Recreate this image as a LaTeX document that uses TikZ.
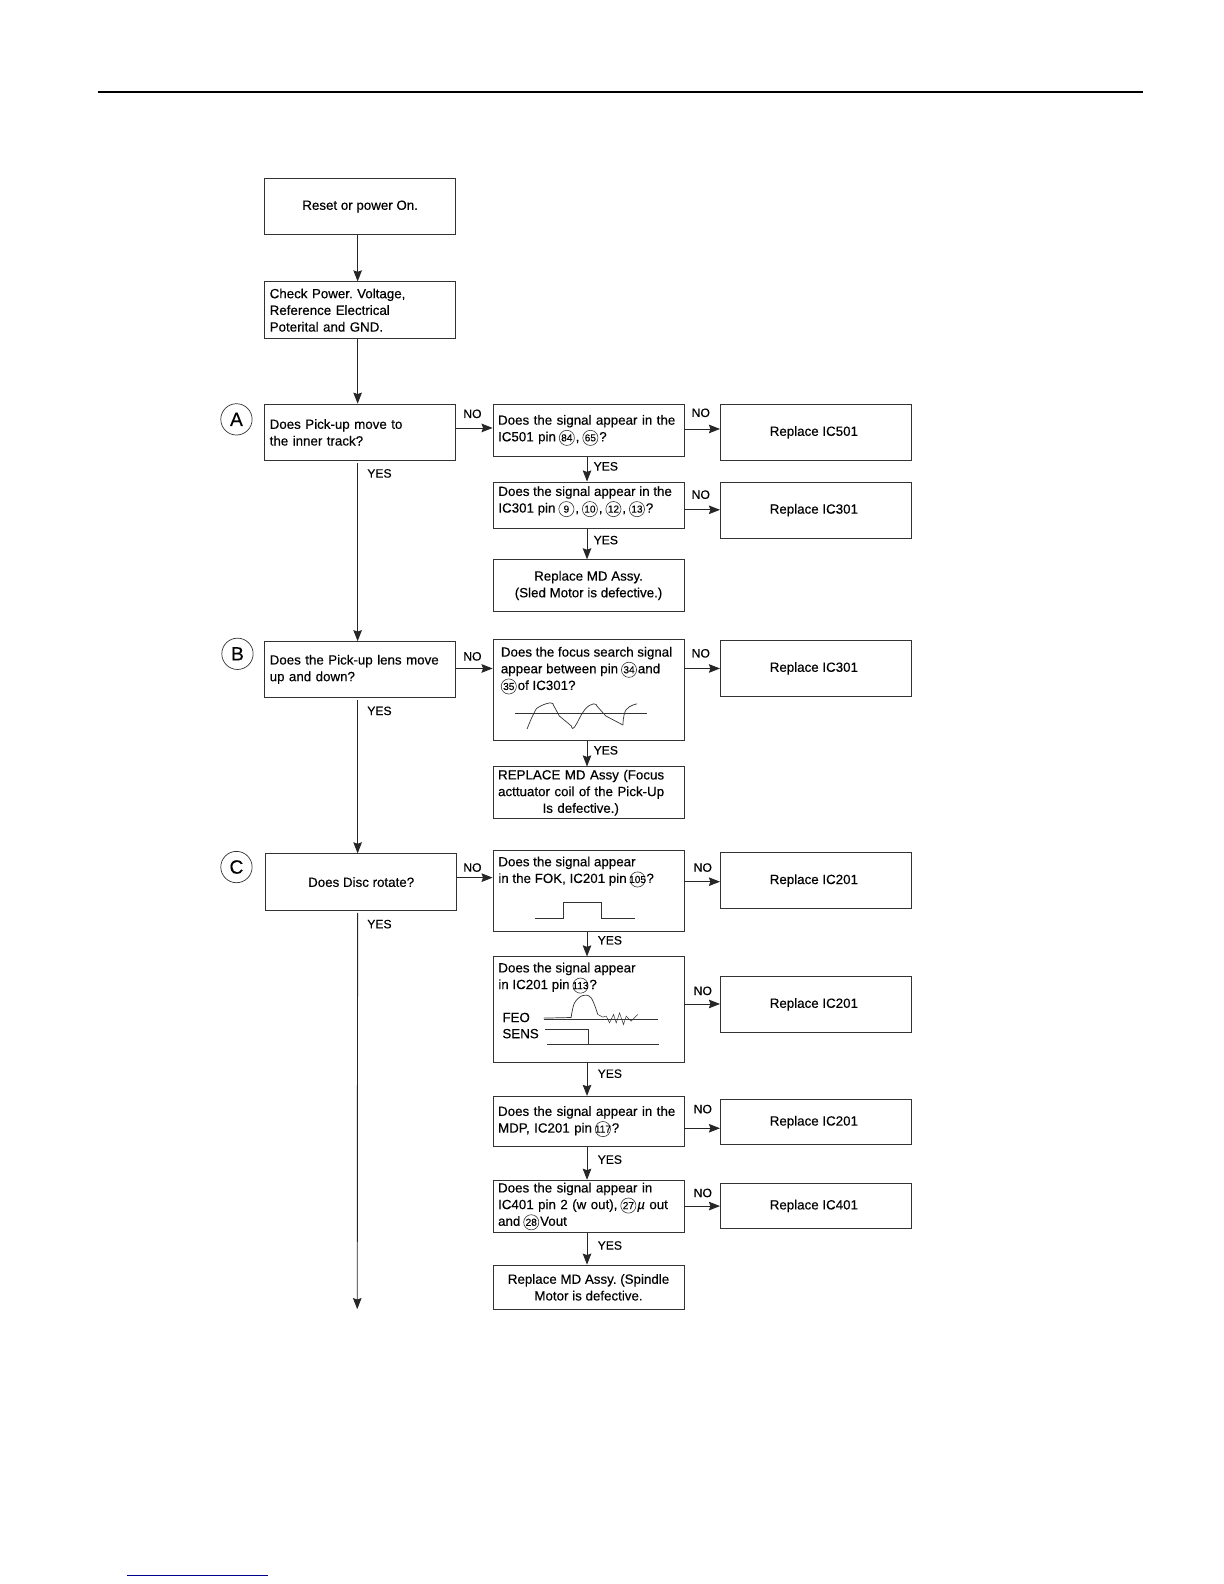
\documentclass[tikz,border=0pt]{standalone}
\usepackage{fontspec}
\setmainfont{Liberation Sans}[RawFeature={embolden=0.35}]
\usetikzlibrary{arrows.meta}
\frenchspacing

\tikzset{
  flowbox/.style  = {draw=black!80, line width=0.8pt, minimum width=189pt, anchor=north west,
                     inner sep=0pt, font=\fontsize{13.2}{16.5}\selectfont},
  leftbox/.style  = {flowbox, align=left, text width=179pt, inner xsep=5pt},
  midbox/.style   = {flowbox, align=center},
  repbox/.style   = {flowbox, execute at end node=\hspace*{4pt}},
  flowtext/.style = {anchor=north west, inner sep=0pt, align=left, font=\fontsize{13.2}{16.5}\selectfont},
  flowlabel/.style= {inner sep=0pt, font=\fontsize{12}{14}\selectfont},
  stagemark/.style= {circle, draw=black!80, line width=0.7pt, minimum size=31pt, inner sep=0pt,
                     font=\fontsize{19}{19}\selectfont},
  flowline/.style = {draw=black!85, line width=0.9pt, -{Stealth[length=11pt,width=8.5pt,inset=1.5pt]}},
  wave/.style     = {black!80, line width=0.7pt}
}
% circled pin number inside a line of text
\newcommand{\pinref}[1]{\hspace{3pt}\tikz[baseline=(pin.base)] \node[circle, draw=black!80, line width=0.6pt,
  minimum size=15pt, inner sep=0pt, font=\fontsize{10}{10}\selectfont] (pin) {\makebox[0pt]{#1}};\hspace{1pt}}

\begin{document}
\begin{tikzpicture}[x=1pt, y=-1pt]
\useasboundingbox (0.5,0.5) rectangle (1211.5,1568);

% top rule and the stub of a link at the foot of the page
\draw[line width=2.6pt, black] (97,91.5) -- (1132,91.5);
\draw[line width=1pt, blue!55!black] (126,1559.5) -- (266,1559.5);

% left column
\node[midbox, minimum height=55pt]  (start)  at (262,177) {Reset or power On.};
\node[leftbox, minimum height=56pt] (power)  at (262,279) {Check Power. Voltage,\\Reference Electrical\\Poterital and GND.};
\node[leftbox, minimum height=56pt] (moveq)  at (262,400) {Does Pick-up move to\\the inner track?};
\node[leftbox, minimum height=55pt] (lensq)  at (262,635) {Does the Pick-up lens move\\up and down?};
\node[midbox, minimum height=56pt]  (discq)  at (263,845) {Does Disc rotate?};
\coordinate (pageend) at (354,1296);

% stage marks
\node[stagemark] (markA) at (234.5,415.5) {A};
\node[stagemark] (markB) at (235.5,647.5) {B};
\node[stagemark] (markC) at (234.5,858.5) {C};

% middle column
\node[leftbox, minimum height=52pt] (sigA)   at (488,400) {Does the signal appear in the\\IC501 pin\pinref{84},\pinref{65}?};
\node[flowbox, minimum height=46pt] (sigB)   at (488,477) {};
\node[flowtext] (sigBtext) at (493.5,481.5) {Does the signal appear in the\\IC301 pin\pinref{9},\pinref{10},\pinref{12},\pinref{13}?};
\node[midbox, minimum height=51pt]  (sledmd) at (488,554) {Replace MD Assy.\\(Sled Motor is defective.)};
\node[flowbox, minimum height=100pt] (sigC)  at (488,633) {};
\node[flowtext] (sigCtext) at (496,640.5) {Does the focus search signal\\appear between pin\pinref{34}and\\\hspace*{-3pt}\pinref{35}of IC301?};
\node[leftbox, minimum height=51pt] (focusmd) at (488,759) {REPLACE MD Assy (Focus\\acttuator coil of the Pick-Up\\\hspace*{44pt}Is defective.)};
\node[flowbox, minimum height=80pt] (sigD)   at (488,842) {};
\node[flowtext] (sigDtext) at (493.5,848) {Does the signal appear\\in the FOK, IC201 pin\pinref{105}?};
\node[flowbox, minimum height=104pt] (sigE)  at (488,947) {};
\node[flowtext] (sigEtext) at (493.5,953) {Does the signal appear\\in IC201 pin\pinref{113}?};
\node[flowtext] (feo)  at (497.5,1002.5) {FEO};
\node[flowtext] (sens) at (497.5,1018.5) {SENS};
\node[leftbox, minimum height=50pt] (sigF)   at (488,1085) {Does the signal appear in the\\MDP, IC201 pin\pinref{117}?};
\node[leftbox, minimum height=52pt] (sigG)   at (488,1168) {Does the signal appear in\\IC401 pin 2 (w out),\pinref{27}{\itshape µ} out\\and\pinref{28}Vout};
\node[midbox, minimum height=44pt]  (spinmd) at (488,1252) {Replace MD Assy. (Spindle\\Motor is defective.};

% right column
\node[repbox, minimum height=56pt] (repA) at (713,400)  {Replace IC501};
\node[repbox, minimum height=56pt] (repB) at (713,477)  {Replace IC301};
\node[repbox, minimum height=55pt] (repC) at (713,634)  {Replace IC301};
\node[repbox, minimum height=55pt] (repD) at (713,844)  {Replace IC201};
\node[repbox, minimum height=56pt] (repE) at (713,966)  {Replace IC201};
\node[repbox, minimum height=45pt] (repF) at (713,1088) {Replace IC201};
\node[repbox, minimum height=45pt] (repG) at (713,1171) {Replace IC401};

% waveforms
\draw[wave] (510,706.5) -- (641,706.5);
\draw[wave] plot[smooth, tension=0.8] coordinates {(522,722) (529,706) (534,700) (545,696) (548,698)};
\draw[wave] (548,698) -- (554,709) -- (566,719);
\draw[wave] plot[smooth, tension=0.8] coordinates {(566,719) (569,720) (579,703) (588,697) (591,699)};
\draw[wave] (591,699) -- (600,709) -- (617,718);
\draw[wave] plot[smooth, tension=0.8] coordinates {(617,718) (620,703) (631,697)};
\draw[wave] (530,909) -- (557.5,909) -- (557.5,893) -- (596,893) -- (596,909) -- (628.5,909);
\draw[wave] (538.5,1009.5) -- (652,1009.5);
\draw[wave] (538.5,1008) -- (565.7,1007.4);
\draw[wave] plot[smooth, tension=0.6] coordinates {(565.7,1007.4) (569,993) (577.3,985.6) (585.5,988) (592.1,1004.4)};
\draw[wave, line width=0.5pt] (592.1,1004.4) -- (597,1007) -- (600.4,1006) -- (603.7,1012.7) -- (607.6,1004.4)
  -- (610.3,1012.7) -- (613.6,1002.8) -- (617.5,1014.3) -- (620.2,1006) -- (625,1011) -- (631.7,1004.4);
\draw[wave] (540.3,1019.6) -- (583.2,1019.6) -- (583.2,1034.1) -- (541.6,1034.1);
\draw[wave] (583.2,1034.1) -- (652.5,1034.1);

% main line, a small gap stays under the question boxes
\draw[flowline] ([xshift=-2.5pt]start.south) -- ([xshift=-2.5pt]power.north);
\draw[flowline] ([xshift=-2.5pt]power.south) -- ([xshift=-2.5pt]moveq.north);
\draw[flowline] ([xshift=-2.5pt, yshift=-2pt]moveq.south) -- ([xshift=-2.5pt]lensq.north);
\draw[flowline] ([xshift=-2.5pt, yshift=-2pt]lensq.south) -- ([xshift=-3.5pt]discq.north);
\draw[flowline] ([xshift=-3.5pt, yshift=-2pt]discq.south) -- (pageend);

% YES steps of the middle column
\foreach \from/\to in {sigA/sigB, sigB/sledmd, sigC/focusmd, sigD/sigE, sigE/sigF, sigF/sigG, sigG/spinmd}
  \draw[flowline] ([xshift=-1.5pt]\from.south) -- ([xshift=-1.5pt]\to.north);

% NO steps, each at its own height
\foreach \from/\to/\ypos in {moveq/sigA/424, sigA/repA/425, sigB/repB/505, lensq/sigC/662, sigC/repC/662,
                             discq/sigD/869, sigD/repD/873, sigE/repE/994, sigF/repF/1117, sigG/repG/1194} {
  \coordinate (level) at (0,\ypos);
  \draw[flowline] (\from.east |- level) -- (\to.west |- level);
}

% labels
\foreach \name/\xpos/\ypos in {a/468/410, b/694/409, c/694/490, d/468/650, e/694/647,
                               f/468/859, g/696/859, h/696/981, i/696/1098, j/696/1181}
  \node[flowlabel] (no\name) at (\xpos,\ypos) {NO};
\foreach \name/\xpos/\ypos in {a/376/469, b/600/462, c/600/535, d/376/704, e/600/743,
                               f/376/915, g/604/931, h/604/1063, i/604/1148, j/604/1233}
  \node[flowlabel] (yes\name) at (\xpos,\ypos) {YES};

\end{tikzpicture}
\end{document}
